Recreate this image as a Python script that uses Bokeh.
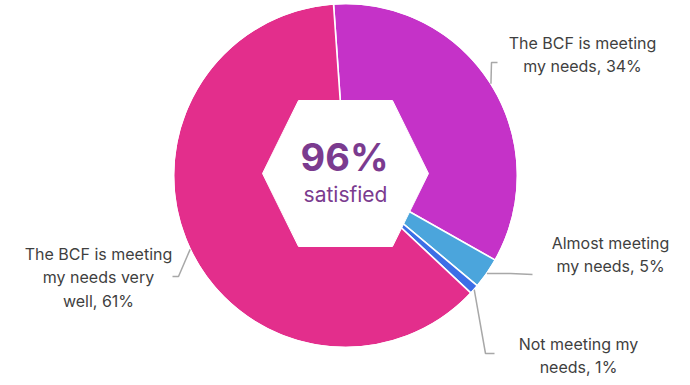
import numpy as np
from bokeh.plotting import figure
from bokeh.models import Range1d
from bokeh.core.properties import value
from bokeh.embed import file_html
from bokeh.resources import INLINE

# ---- data (slice shares as drawn, and their labels) ----
categories = ["The BCF is meeting my needs", "Almost meeting my needs",
              "Not meeting my needs", "The BCF is meeting my needs very well"]
shares = [34.3, 2.9, 0.9, 61.9]
label_lines = [["The BCF is meeting", "my needs, 34%"],
               ["Almost meeting", "my needs, 5%"],
               ["Not meeting my", "needs, 1%"],
               ["The BCF is meeting", "my needs very", "well, 61%"]]
center_value = "96%"
center_caption = "satisfied"

# ---- layout / style ----
W, H = 690, 385
colors = ["#C532C8", "#4BA5DC", "#3C6EE6", "#E32E8C"]
cx, cy_pix, R = 345, 175, 172
start_offset_deg = -4.0     # clockwise from 12 o'clock

def py(y):
    return H - y

p = figure(width=W, height=H, x_range=Range1d(0, W), y_range=Range1d(0, H),
           x_axis_type=None, y_axis_type=None, toolbar_location=None,
           output_backend="svg", min_border=0)
p.outline_line_color = None
p.grid.visible = False
p.background_fill_color = "white"
p.border_fill_color = "white"

vals = np.array(shares, dtype=float)
frac = vals / vals.sum()
cum = np.concatenate([[0], np.cumsum(frac)]) * 360 + start_offset_deg
# clockwise-from-top degrees -> math angle (ccw from +x) in radians
start = np.radians(90 - cum[:-1])
end = np.radians(90 - cum[1:])
mid_cw = (cum[:-1] + cum[1:]) / 2

p.wedge(x=[cx] * 4, y=[py(cy_pix)] * 4, radius=R,
        start_angle=list(end), end_angle=list(start),
        fill_color=colors, line_color="white", line_width=1.6)
p.circle(x=[cx], y=[py(cy_pix)], radius=R, fill_color=None,
         line_color="white", line_width=1.6)

# leader lines (edge point from slice middle, then elbow and end)
elbows = [(491, 62), (510, 273), (485, 353), (178, 276)]
ends = [(497, 62), (532, 274), (494, 353), (172, 276)]
xs, ys = [], []
for i in range(4):
    a = np.radians(mid_cw[i])
    ex = cx + R * np.sin(a)
    ey = cy_pix - R * np.cos(a)
    xs.append([ex, elbows[i][0], ends[i][0]])
    ys.append([py(ey), py(elbows[i][1]), py(ends[i][1])])
p.multi_line(xs=xs, ys=ys, line_color="#A8A8A8", line_width=1.5)

# labels
label_pos = [(582, 42), (610, 242), (578, 343), (98, 253)]
line_gap = 23.5
tx, ty, tt = [], [], []
for (lx, ly), lines in zip(label_pos, label_lines):
    for k, s in enumerate(lines):
        tx.append(lx)
        ty.append(py(ly + k * line_gap))
        tt.append(s)
p.text(x=tx, y=ty, text=tt, text_align="center", text_baseline="middle",
       text_font=value("Inter"), text_font_size="16px", text_color="#3F3F3F")

# center hexagon
hx, hy, hw, htw, hh = 345, 173, 83, 47, 73
p.patch(x=[hx - hw, hx - htw, hx + htw, hx + hw, hx + htw, hx - htw],
        y=[py(hy), py(hy - hh), py(hy - hh), py(hy), py(hy + hh), py(hy + hh)],
        fill_color="white", line_color="white")

p.text(x=[344], y=[py(156)], text=[center_value], text_align="center",
       text_baseline="middle", text_font=value("Inter"), text_font_size="38px",
       text_font_style="bold", text_color="#7B3B8F")
p.text(x=[345], y=[py(194)], text=[center_caption], text_align="center",
       text_baseline="middle", text_font=value("Inter"), text_font_size="21px",
       text_color="#7B3B8F")

open("out.html", "w").write(file_html(p, INLINE))
